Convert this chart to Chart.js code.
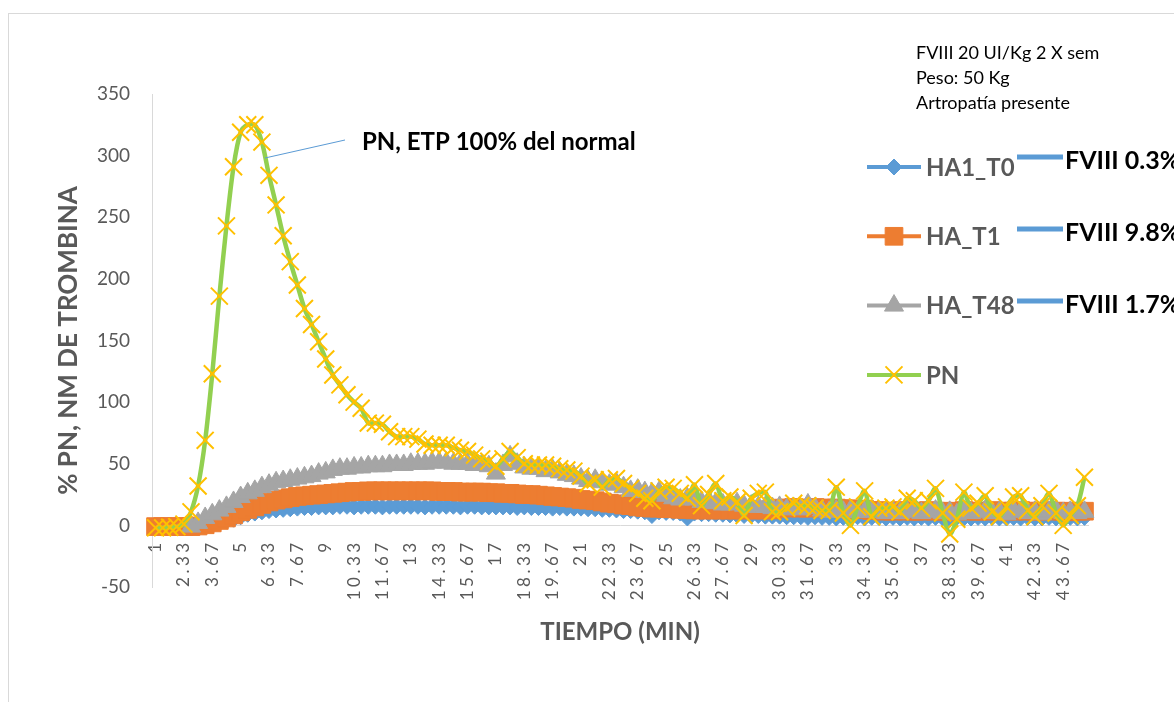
<!DOCTYPE html>
<html>
<head>
<meta charset="utf-8">
<title>Generación de trombina</title>
<script src="https://cdn.jsdelivr.net/npm/chart.js@4/dist/chart.umd.min.js"></script>
<style>
  html, body { margin: 0; padding: 0; background: #fff; }
  #contenedor { width: 1174px; height: 702px; }
</style>
</head>
<body>
<div id="contenedor"><canvas id="grafica" width="1174" height="702"></canvas></div>
<script>
// tiempo (min), un punto cada 20 s
const tiempos = [
  1, 1.33, 1.67, 2, 2.33, 2.67, 3, 3.33, 3.67, 4, 4.33, 4.67,
  5, 5.33, 5.67, 6, 6.33, 6.67, 7, 7.33, 7.67, 8, 8.33, 8.67,
  9, 9.33, 9.67, 10, 10.33, 10.67, 11, 11.33, 11.67, 12, 12.33, 12.67,
  13, 13.33, 13.67, 14, 14.33, 14.67, 15, 15.33, 15.67, 16, 16.33, 16.67,
  17, 17.33, 17.67, 18, 18.33, 18.67, 19, 19.33, 19.67, 20, 20.33, 20.67,
  21, 21.33, 21.67, 22, 22.33, 22.67, 23, 23.33, 23.67, 24, 24.33, 24.67,
  25, 25.33, 25.67, 26, 26.33, 26.67, 27, 27.33, 27.67, 28, 28.33, 28.67,
  29, 29.33, 29.67, 30, 30.33, 30.67, 31, 31.33, 31.67, 32, 32.33, 32.67,
  33, 33.33, 33.67, 34, 34.33, 34.67, 35, 35.33, 35.67, 36, 36.33, 36.67,
  37, 37.33, 37.67, 38, 38.33, 38.67, 39, 39.33, 39.67, 40, 40.33, 40.67,
  41, 41.33, 41.67, 42, 42.33, 42.67, 43, 43.33, 43.67, 44, 44.33, 44.67
];

// nM de trombina
const ha1T0 = [
  -1, -1, -1, -1, -1, -1, -0.5, 0, 1, 2, 3.5, 5,
  7, 9, 10, 11, 12, 12.5, 13, 13.5, 14, 14.5, 14.5, 15,
  15, 15, 15.5, 15.5, 15, 15.5, 15.5, 15.5, 15, 15.5, 15.5, 15.5,
  15.5, 15.5, 15, 15.5, 15.5, 15.5, 15.5, 15, 15.5, 15.5, 15, 15,
  15, 15, 15, 14.5, 15, 14.5, 14.5, 14.5, 14, 14.5, 14, 14,
  14, 13.5, 13.5, 13, 13, 12.5, 12, 12, 11.5, 11, 8, 11,
  10.5, 10.5, 10, 6, 10, 9.5, 9.5, 9, 9, 8.5, 8.5, 8,
  8, 8, 7.5, 7.5, 7.5, 7, 7, 7, 6.5, 7, 6.5, 6.5,
  6, 6.5, 6.5, 7, 6, 6.5, 6.5, 6, 6.5, 6, 6.5, 6,
  6.5, 6, 6.5, 6, 5, 6.5, 6, 6, 6.5, 6, 6.5, 6,
  6, 6.5, 6, 6.5, 6, 6, 6.5, 6, 6, 6.5, 6, 6.5
];

const haT1 = [
  -1, -1, -1, -1, -1, -1, -0.5, 0.5, 2, 4, 6, 8.5,
  11, 13, 15, 17, 19, 20.5, 21.5, 22.5, 23.5, 24, 24.5, 25,
  25.5, 26, 26.5, 27, 27.5, 27.5, 28, 28, 28, 28, 28, 28,
  28, 28, 28, 28, 27.5, 27.5, 27.5, 27, 27, 27, 27, 26.5,
  26.5, 26, 26, 25.5, 25, 25, 24.5, 24, 23.5, 23, 22.5, 22,
  21, 20.5, 20, 19, 18, 17.5, 16.5, 16, 15, 14.5, 14, 14,
  13.5, 13.5, 13, 13, 12.5, 12.5, 12.5, 12.5, 12.5, 12.5, 12.5, 12.5,
  12.5, 12.5, 12.5, 12.5, 14, 14, 14.5, 14, 14, 14.5, 14, 14,
  14, 13.5, 13.5, 13, 13, 12, 12, 11.5, 11.5, 12, 11.5, 11.5,
  11.5, 12, 11.5, 11.5, 11, 11.5, 12, 11.5, 11.5, 11.5, 12, 11.5,
  11.5, 11.5, 12, 11.5, 11.5, 11.5, 12, 11.5, 11.5, 11, 11.5, 11.5
];

const haT48 = [
  null, null, null, null, null, -1, 2, 6, 9, 12, 15, 19,
  23, 26, 28, 31, 33, 35, 36, 37, 38, 39, 40, 42,
  43, 45, 46, 46, 47, 47, 48, 48, 48, 49, 49, 49,
  50, 50, 50, 51, 51, 51, 50, 50, 50, 49, 49, 48,
  42, 49, 56, 50, 47, 46, 46, 44, 45, 43, 41, 40,
  38, 36, 37, 35, 33, 34, 31, 28, 29, 27, 26, 27,
  24, 22, 21, 22, 21, 19, 20, 18, 17, 17, 18, 16,
  16, 15, 15, 14, 15, 13, 14, 13, 17, 14, 12, 11,
  12, 11, 12, 11, 11, 12, 11, 10, 11, 10, 11, 12,
  10, 11, 12, 10, 11, 9, 12, 10, 11, 12, 10, 11,
  9, 12, 11, 10, 11, 9, 11, 12, 10, 11, 10, 11
];

const pn = [
  -2, -2, -1.5, -1, 1, 11, 32, 69, 123, 186, 243, 291,
  319, 325, 325, 311, 284, 260, 235, 214, 195, 176, 163, 149,
  135, 122, 114, 106, 100, 95, 83, 83, 82, 76, 72, 72,
  72, 70, 66, 65, 65, 65, 63, 61, 60, 57, 54, 52,
  48, 54, 60, 55, 50, 49, 49, 49, 48, 46, 45, 44,
  40, 34, 37, 31, 37, 38, 34, 30, 26, 22, 20, 28,
  31, 30, 26, 22, 33, 16, 25, 34, 20, 23, 19, 8,
  22, 26, 27, 11, 11, 14, 18, 16, 16, 14, 12, 12,
  31, 10, 0, 15, 28, 7, 14, 14, 15, 11, 22, 20,
  14, 20, 30, 10, -7, 5, 27, 14, 18, 24, 11, 7,
  15, 23, 24, 12, 7, 16, 26, 10, 0, 8, 16, 39
];

const nombresSeries = ['HA1_T0', 'HA_T1', 'HA_T48', 'PN'];
const nivelesFVIII = ['FVIII 0.3%', 'FVIII 9.8%', 'FVIII 1.7%'];
const notas = ['FVIII 20 UI/Kg 2 X sem', 'Peso: 50 Kg', 'Artropatía presente'];
const notaPN = 'PN, ETP 100% del normal';
const ejeY = { min: -50, max: 350, paso: 50 };

const fuente = 'Lato, "Liberation Sans", sans-serif';
Chart.defaults.font.family = fuente;

// fondo y marco del gráfico
const marco = {
  id: 'marco',
  beforeDraw(chart) {
    const ctx = chart.ctx;
    ctx.save();
    ctx.fillStyle = '#fff';
    ctx.fillRect(0, 0, chart.width, chart.height);
    ctx.strokeStyle = '#D9D9D9';
    ctx.lineWidth = 1;
    ctx.strokeRect(8.5, 13.5, 1300, 1000);
    ctx.restore();

    // etiquetas del eje x espaciadas como en excel
    const sx = chart.scales.x;
    if (!sx._espaciado) {
      const dibujar = sx.drawLabels;
      sx.drawLabels = function (area) {
        this.ctx.save();
        this.ctx.letterSpacing = '3.5px';
        dibujar.call(this, area);
        this.ctx.restore();
      };
      sx._espaciado = true;
    }
  }
};

// leyenda a la derecha + textos
const leyenda = {
  id: 'leyenda',
  afterDraw(chart) {
    const ctx = chart.ctx;
    ctx.save();
    ctx.textBaseline = 'middle';

    chart.data.datasets.forEach((ds, i) => {
      const y = 167 + i * 69.3;
      ctx.strokeStyle = ds.borderColor;
      ctx.lineWidth = 4;
      ctx.beginPath();
      ctx.moveTo(867, y);
      ctx.lineTo(921, y);
      ctx.stroke();

      ctx.fillStyle = ds.backgroundColor || ds.pointBorderColor;
      ctx.strokeStyle = ds.pointBorderColor || ds.borderColor;
      ctx.lineWidth = ds.pointBorderWidth;
      Chart.helpers.drawPoint(ctx, {
        pointStyle: ds.pointStyle,
        radius: ds.pointRadius,
        borderWidth: ds.pointBorderWidth,
        rotation: 0
      }, 894, y);

      ctx.fillStyle = '#595959';
      ctx.font = 'bold 24px ' + fuente;
      ctx.textAlign = 'left';
      ctx.fillText(ds.label, 926, y + 1);
    });

    // niveles de FVIII
    nivelesFVIII.forEach((t, i) => {
      const y = [157, 229, 301][i];
      ctx.strokeStyle = '#5B9BD5';
      ctx.lineWidth = 5;
      ctx.beginPath();
      ctx.moveTo(1017, y);
      ctx.lineTo(1063, y);
      ctx.stroke();
      ctx.fillStyle = '#000';
      ctx.font = 'bold 25px ' + fuente;
      ctx.fillText(t, 1065, y + 4);
    });

    // notas arriba
    ctx.fillStyle = '#000';
    ctx.font = '18px ' + fuente;
    notas.forEach((t, i) => ctx.fillText(t, 916, 53 + i * 25));

    // anotación del pico PN
    ctx.strokeStyle = '#5B9BD5';
    ctx.lineWidth = 1;
    ctx.beginPath();
    ctx.moveTo(265, 158);
    ctx.lineTo(345, 140);
    ctx.stroke();
    ctx.font = 'bold 24px ' + fuente;
    ctx.fillText(notaPN, 362, 142);

    ctx.restore();
  }
};

const grafica = new Chart(document.getElementById('grafica'), {
  type: 'line',
  data: {
    labels: tiempos,
    datasets: [
      {
        label: nombresSeries[0],
        data: ha1T0,
        borderColor: '#5B9BD5',
        backgroundColor: '#5B9BD5',
        borderWidth: 4.5,
        pointStyle: 'rectRot',
        pointRadius: 8,
        pointBorderWidth: 1,
        order: 4,
        clip: false
      },
      {
        label: nombresSeries[1],
        data: haT1,
        borderColor: '#ED7D31',
        backgroundColor: '#ED7D31',
        borderWidth: 4.5,
        pointStyle: 'rect',
        pointRadius: 12.5,
        pointBorderWidth: 1,
        order: 3,
        clip: false
      },
      {
        label: nombresSeries[2],
        data: haT48,
        borderColor: '#A5A5A5',
        backgroundColor: '#A5A5A5',
        borderWidth: 4.5,
        pointStyle: 'triangle',
        pointRadius: 11,
        pointBorderWidth: 1,
        order: 2,
        clip: false
      },
      {
        label: nombresSeries[3],
        data: pn,
        borderColor: '#92D050',
        borderWidth: 4.5,
        tension: 0.3,
        pointStyle: 'crossRot',
        pointRadius: 12,
        pointBorderColor: '#FFC000',
        pointBorderWidth: 2,
        order: 1,
        clip: false
      }
    ]
  },
  options: {
    responsive: false,
    animation: false,
    devicePixelRatio: 1,
    layout: { padding: { left: 51, top: 94, right: 86, bottom: 115 } },
    scales: {
      x: {
        type: 'category',
        position: { y: 0 },
        offset: true,
        grid: { display: false, drawTicks: false },
        border: { color: '#D9D9D9', width: 1 },
        ticks: {
          autoSkip: false,
          minRotation: 90,
          maxRotation: 90,
          padding: 14,
          color: '#595959',
          font: { size: 17 },
          callback: function (value, index) {
            return index % 4 === 0 ? String(this.getLabelForValue(value)) : '';
          }
        },
        title: {
          display: true,
          text: 'TIEMPO (MIN)',
          color: '#595959',
          font: { size: 24, weight: 'bold' },
          padding: { top: 4, bottom: -6 }
        },
        afterFit(scale) { scale.height = 115; }
      },
      y: {
        min: ejeY.min,
        max: ejeY.max,
        grid: { display: false, drawTicks: false },
        border: { color: '#D9D9D9', width: 1 },
        ticks: {
          stepSize: ejeY.paso,
          padding: 22,
          color: '#595959',
          font: { size: 19 }
        },
        title: {
          display: true,
          text: '% PN, NM DE TROMBINA',
          color: '#595959',
          font: { size: 26, weight: 'bold' },
          padding: { top: 2, bottom: 4 }
        },
        afterFit(scale) { scale.width = 101; }
      }
    },
    plugins: {
      legend: { display: false },
      tooltip: { enabled: false }
    }
  },
  plugins: [marco, leyenda]
});
</script>
</body>
</html>
